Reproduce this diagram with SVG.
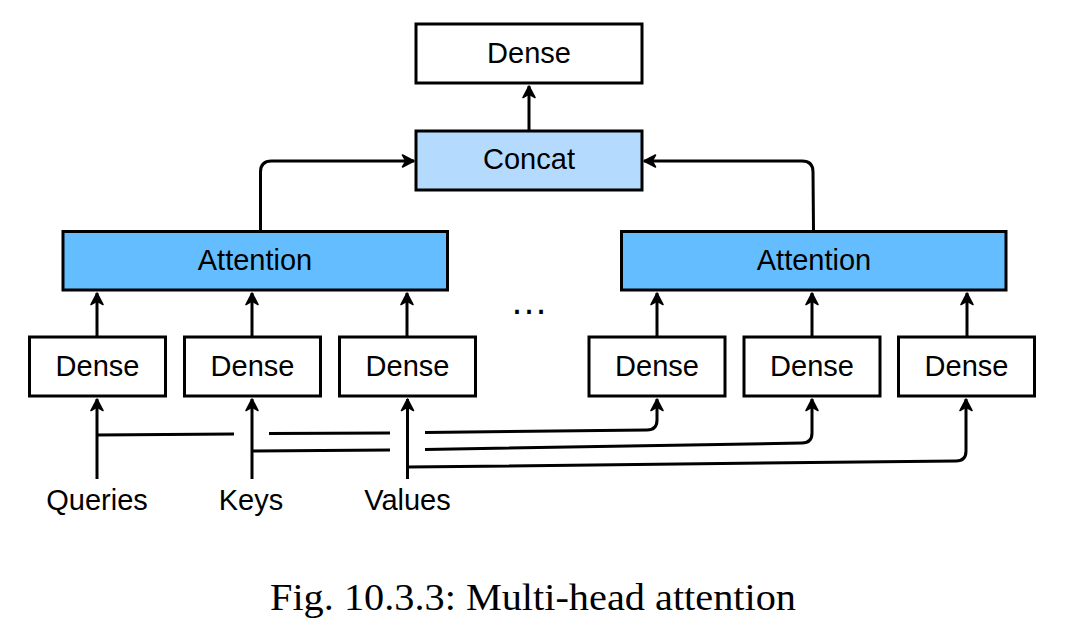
<svg xmlns="http://www.w3.org/2000/svg" width="1068" height="636" viewBox="0 0 1068 636">
<style>
.box{stroke:#000;stroke-width:3;}
.w{fill:#fff;}
.att{fill:#64bdff;}
.cat{fill:#b4dafe;}
.lbl{font-family:"Liberation Sans",Arial,sans-serif;font-size:29px;fill:#000;text-anchor:middle;}
.edge{fill:none;stroke:#000;stroke-width:3;}
.arr{marker-end:url(#ah);}
.cap{font-family:"Liberation Serif","Times New Roman",serif;font-size:37px;fill:#000;}
</style>
<defs>
<marker id="ah" markerWidth="16" markerHeight="16" viewBox="0 0 16 16" refX="13" refY="8" orient="auto" markerUnits="userSpaceOnUse">
<path d="M1.5,2 L13,8 L1.5,14 L5,8 z" fill="#000" stroke="#000" stroke-width="1.6" stroke-linejoin="round"/>
</marker>
</defs>
<rect width="1068" height="636" fill="#fff"/>
<g id="connectors">
<path class="edge arr" d="M529,131 L529,86"/>
<path class="edge arr" d="M260.5,231 L260.5,172 Q260.5,161 271.5,161 L414,161"/>
<path class="edge arr" d="M813.5,231 L813,172 Q813,161 802,161 L644,161"/>
<path class="edge arr" d="M97,337 L97,293"/>
<path class="edge arr" d="M252,337 L252,293"/>
<path class="edge arr" d="M407,337 L407,293"/>
<path class="edge arr" d="M657,337 L657,293"/>
<path class="edge arr" d="M812,337 L812,293"/>
<path class="edge arr" d="M967,337 L967,293"/>
<path class="edge arr" d="M97,479 L97,399"/>
<path class="edge arr" d="M252,479 L252,399"/>
<path class="edge arr" d="M407.5,479 L407.5,399"/>
<path class="edge" d="M97,435 L234,434"/>
<path class="edge" d="M269,433.5 L390,433"/>
<path class="edge arr" d="M425,432.5 L647,430 Q657,430 657,420 L657,399"/>
<path class="edge" d="M252,451 L390,450"/>
<path class="edge arr" d="M425,449.5 L802,443 Q812,443 812,433 L812,399"/>
<path class="edge arr" d="M407.5,467 L956,461 Q966,461 966,451 L966,399"/>
</g>
<g id="dense-top">
<rect class="box w" x="416" y="24" width="226" height="59"/>
<text class="lbl" x="529" y="62.5">Dense</text>
</g>
<g id="concat">
<rect class="box cat" x="416" y="131" width="226" height="59"/>
<text class="lbl" x="529" y="168.5">Concat</text>
</g>
<g id="attention-1">
<rect class="box att" x="63" y="231.5" width="384.5" height="58.5"/>
<text class="lbl" x="255" y="269.5">Attention</text>
</g>
<g id="attention-h">
<rect class="box att" x="621.5" y="231.5" width="384.5" height="58.5"/>
<text class="lbl" x="814" y="269.5">Attention</text>
</g>
<g id="ellipsis">
<text class="lbl" x="529" y="314" style="font-size:38px">…</text>
</g>
<g id="dense-q1">
<rect class="box w" x="29.5" y="337" width="136" height="59"/>
<text class="lbl" x="97.5" y="375.5">Dense</text>
</g>
<g id="dense-k1">
<rect class="box w" x="184.5" y="337" width="136" height="59"/>
<text class="lbl" x="252.5" y="375.5">Dense</text>
</g>
<g id="dense-v1">
<rect class="box w" x="339.5" y="337" width="136" height="59"/>
<text class="lbl" x="407.5" y="375.5">Dense</text>
</g>
<g id="dense-qh">
<rect class="box w" x="589" y="337" width="136" height="59"/>
<text class="lbl" x="657" y="375.5">Dense</text>
</g>
<g id="dense-kh">
<rect class="box w" x="744" y="337" width="136" height="59"/>
<text class="lbl" x="812" y="375.5">Dense</text>
</g>
<g id="dense-vh">
<rect class="box w" x="898.5" y="337" width="136" height="59"/>
<text class="lbl" x="966.5" y="375.5">Dense</text>
</g>
<g id="queries"><text class="lbl" x="97" y="510">Queries</text></g>
<g id="keys"><text class="lbl" x="251" y="510">Keys</text></g>
<g id="values"><text class="lbl" x="407.5" y="510">Values</text></g>
<text class="cap" x="270" y="610" textLength="526" lengthAdjust="spacingAndGlyphs">Fig. 10.3.3: Multi-head attention</text>
</svg>
